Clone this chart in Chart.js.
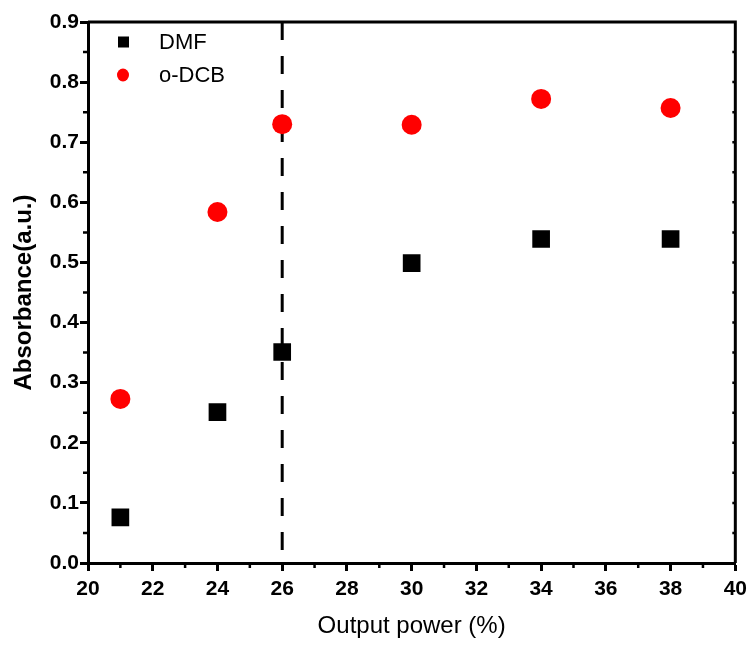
<!DOCTYPE html>
<html>
<head>
<meta charset="utf-8">
<script src="https://cdn.jsdelivr.net/npm/chart.js@4.4.0/dist/chart.umd.min.js"></script>
<style>
  body { margin: 0; background: #fff; }
  #wrap { width: 753px; height: 645px; }
</style>
</head>
<body>
<div id="wrap"><canvas id="myChart" width="753" height="645"></canvas></div>
<script>
const outputPower = [21, 24, 26, 30, 34, 38];
const dmfAbs = [0.076, 0.251, 0.351, 0.499, 0.539, 0.539];
const odcbAbs = [0.273, 0.584, 0.73, 0.729, 0.772, 0.757];
const markerLine = 26;

const sans = "'Liberation Sans', Arial, sans-serif";

const toPoints = (ys) => outputPower.map((x, i) => ({ x: x, y: ys[i] }));

// minor ticks, box frame and the in-plot legend
const framePlugin = {
  id: "frame",
  afterDraw(chart) {
    const ctx = chart.ctx;
    const a = chart.chartArea;
    const xs = chart.scales.x;
    const ys = chart.scales.y;
    ctx.save();
    ctx.strokeStyle = "#000";
    ctx.lineWidth = 3;
    ctx.beginPath();
    ctx.moveTo(a.left, a.top);
    ctx.lineTo(a.right, a.top);
    ctx.lineTo(a.right, a.bottom);
    ctx.stroke();

    ctx.lineWidth = 2.5;
    ctx.beginPath();
    for (let v = 21; v < 40; v += 2) {
      const px = xs.getPixelForValue(v);
      ctx.moveTo(px, a.bottom);
      ctx.lineTo(px, a.bottom + 5);
    }
    for (let v = 0.05; v < 0.9; v += 0.1) {
      const py = ys.getPixelForValue(v);
      ctx.moveTo(a.left, py);
      ctx.lineTo(a.left - 5, py);
    }
    for (let v = 0.05; v < 0.9; v += 0.05) {
      const py = ys.getPixelForValue(v);
      ctx.moveTo(a.right, py);
      ctx.lineTo(a.right - 3, py);
    }
    ctx.stroke();

    // legend
    const items = [
      { text: "DMF", ds: chart.data.datasets[0], y: a.top + 20 },
      { text: "o-DCB", ds: chart.data.datasets[1], y: a.top + 53 },
    ];
    ctx.font = "22px " + sans;
    ctx.textBaseline = "middle";
    ctx.textAlign = "left";
    items.forEach((it) => {
      ctx.fillStyle = it.ds.backgroundColor;
      if (it.ds.pointStyle === "rect") {
        ctx.fillRect(a.left + 30, it.y - 5.5, 11, 11);
      } else {
        ctx.beginPath();
        ctx.ellipse(a.left + 35, it.y, 6, 6.5, 0, 0, Math.PI * 2);
        ctx.fill();
      }
      ctx.fillStyle = "#000";
      ctx.fillText(it.text, a.left + 71, it.y + 1);
    });
    ctx.restore();
  },
};

const config = {
  type: "scatter",
  data: {
    datasets: [
      {
        label: "DMF",
        data: toPoints(dmfAbs),
        pointStyle: "rect",
        pointRadius: 12.5,
        backgroundColor: "#000",
        borderColor: "#000",
        borderWidth: 0,
      },
      {
        label: "o-DCB",
        data: toPoints(odcbAbs),
        pointStyle: "circle",
        pointRadius: 10,
        backgroundColor: "#ff0000",
        borderColor: "#ff0000",
        borderWidth: 0,
      },
      {
        label: "marker",
        data: [
          { x: markerLine, y: 0.9 },
          { x: markerLine, y: 0 },
        ],
        showLine: true,
        pointRadius: 0,
        borderColor: "#000",
        borderWidth: 3,
        borderDash: [18, 16],
        order: 5,
      },
    ],
  },
  options: {
    responsive: false,
    animation: false,
    layout: { padding: { top: 22, right: 16, left: 0, bottom: 0 } },
    plugins: {
      legend: { display: false },
      tooltip: { enabled: false },
    },
    scales: {
      x: {
        type: "linear",
        min: 20,
        max: 40,
        afterFit(scale) { scale.height = 82; },
        ticks: {
          stepSize: 2,
          color: "#000",
          font: { family: sans, size: 21, weight: "bold" },
          padding: 6,
          maxRotation: 0,
        },
        grid: {
          drawOnChartArea: false,
          tickLength: 8,
          tickWidth: 3,
          tickColor: "#000",
        },
        border: { color: "#000", width: 3 },
        title: {
          display: true,
          text: "Output power (%)",
          color: "#000",
          font: { family: sans, size: 24 },
          padding: { top: 2 },
        },
      },
      y: {
        type: "linear",
        min: 0,
        max: 0.9,
        afterFit(scale) { scale.width = 88; },
        ticks: {
          stepSize: 0.1,
          color: "#000",
          font: { family: sans, size: 21, weight: "bold" },
          padding: 1,
          callback: (v) => v.toFixed(1),
        },
        grid: {
          drawOnChartArea: false,
          tickLength: 8,
          tickWidth: 3,
          tickColor: "#000",
        },
        border: { color: "#000", width: 3 },
        title: {
          display: true,
          text: "Absorbance(a.u.)",
          color: "#000",
          font: { family: sans, size: 24, weight: "bold" },
          padding: { top: 10, bottom: 0 },
        },
      },
    },
  },
  plugins: [framePlugin],
};

const myChart = new Chart(document.getElementById("myChart"), config);
</script>
</body>
</html>
